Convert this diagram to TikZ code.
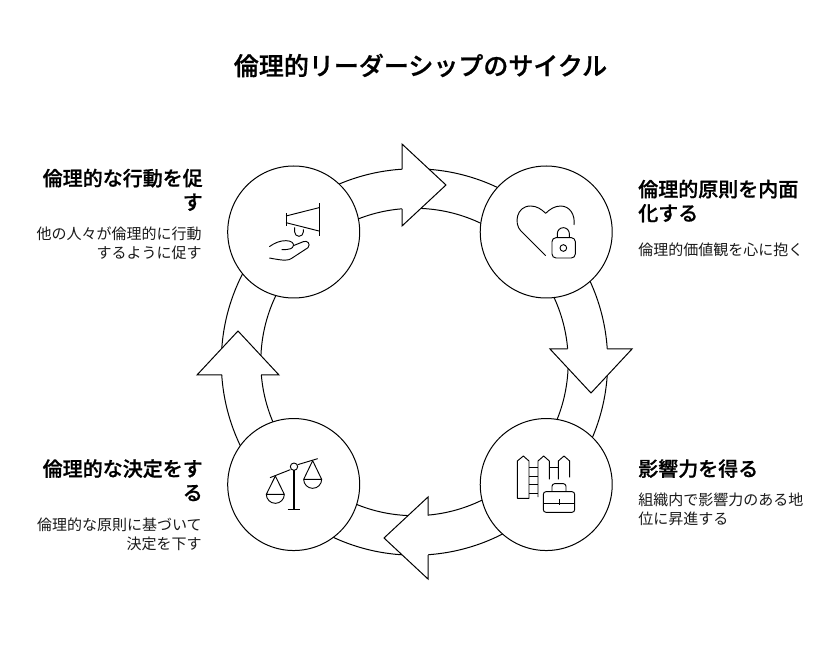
\documentclass[tikz,border=0pt]{standalone}
\usepackage{fontspec}
\setmainfont{Noto Sans CJK JP}
\newfontfamily\headfont[FakeBold=0.8]{Noto Sans CJK JP Medium}
\usetikzlibrary{positioning}
\tikzstyle{Astep}=[draw,circle,fill=white,minimum size=99pt,inner sep=0,line width=0.75pt,node distance=189.4pt]
\tikzstyle{Ahead}=[fill=white,line width=0.75pt,line join=miter]
\tikzstyle{ring}=[draw,line width=0.75pt]
\tikzstyle{icon}=[draw,line width=0.7pt,line join=round]
\tikzstyle{Ttitle}=[font=\fontsize{18.75}{22}\selectfont\headfont,inner sep=0]
\tikzstyle{Thead}=[font=\fontsize{15}{18}\selectfont\headfont,inner sep=0]
\tikzstyle{Tbody}=[font=\fontsize{11.25}{14}\selectfont,text=black!90,inner sep=0]
\begin{document}
\begin{tikzpicture}[x=0.75pt,y=-0.75pt]
  \useasboundingbox (0,0) rectangle (840,663);
  \node[Ttitle] (title) at (420.5,65.5) {倫理的リーダーシップのサイクル};
  % ring
  \coordinate (c) at (414.5,362);
  \path[ring] (c) circle (193.2);
  \path[ring] (c) circle (153.7);
  % heads
  \fill[white] (402,144) -- (446,185) -- (402,226) -- cycle;
  \draw[Ahead] (402,169.4) -- (402,144) -- (446,185) -- (402,226) -- (402,209);
  \fill[white] (550,349) -- (591,393) -- (632,349) -- cycle;
  \draw[Ahead] (567.7,349) -- (550,349) -- (591,393) -- (632,349) -- (607,349);
  \fill[white] (428,497) -- (384,538) -- (428,579) -- cycle;
  \draw[Ahead] (428,515.7) -- (428,497) -- (384,538) -- (428,579) -- (428,555);
  \fill[white] (197,375) -- (238,331) -- (279,375) -- cycle;
  \draw[Ahead] (222,375) -- (197,375) -- (238,331) -- (279,375) -- (261,375);
  % steps
  \node[Astep] (act) at (293.7,232) {};
  \node[Astep,right of=act] (inner) {};
  \node[Astep,below of=inner] (power) {};
  \node[Astep,left of=power] (judge) {};
  % texts
  \node[Thead,anchor=north west,align=left] (innerh) at (638,179.5) {倫理的原則を内面\\化する};
  \node[Tbody,anchor=north west,align=left] (innerb) at (638,243) {倫理的価値観を心に抱く};
  \node[Thead,anchor=north west,align=left] (powerh) at (638,459) {影響力を得る};
  \node[Tbody,anchor=north west,align=left] (powerb) at (638,493) {組織内で影響力のある地\\位に昇進する};
  \node[Thead,anchor=north east,align=right] (acth) at (203,168.5) {倫理的な行動を促\\す};
  \node[Tbody,anchor=north east,align=right] (actb) at (202,227) {他の人々が倫理的に行動\\するように促す};
  \node[Thead,anchor=north east,align=right] (judgeh) at (203,459) {倫理的な決定をす\\る};
  \node[Tbody,anchor=north east,align=right] (judgeb) at (202,518) {倫理的な原則に基づいて\\決定を下す};
  % megaphone and hand
  \begin{scope}[shift={(210,130)},x=0.25pt,y=-0.25pt]
    \path[icon] (228,250) -- (228,287);
    \path[icon] (228,258) -- (327,233);
    \path[icon] (228,278) -- (327,303);
    \path[icon] (327,220) -- (327,318);
    \path[icon] (254,292) -- (254,306) arc (180:0:13) -- (280,298);
    \path[icon] (178,350) .. controls (195,338) and (210,332) .. (228,332) .. controls (245,332) and (252,340) .. (250,347) .. controls (248,356) and (240,359) .. (215,359);
    \path[icon] (250,347) -- (280,335) .. controls (292,330) and (303,342) .. (294,353) -- (245,385) .. controls (235,392) and (225,393) .. (178,384);
  \end{scope}
  % heart and lock
  \begin{scope}[shift={(430,130)},x=0.25pt,y=-0.25pt]
    \path[icon] (347,377) -- (272,302) .. controls (252,282) and (258,228) .. (302,228) .. controls (320,228) and (335,238) .. (347,250) .. controls (359,238) and (374,228) .. (392,228) .. controls (420,228) and (436,255) .. (432,285);
    \path[icon,rounded corners=3pt] (366,323) rectangle (436,384);
    \path[icon] (382,323) -- (382,311) arc (180:360:18) -- (418,323);
    \path[icon] (400,354) circle (10);
  \end{scope}
  % fence and briefcase
  \begin{scope}[shift={(430,400)},x=0.25pt,y=-0.25pt]
    \path[icon] (262,295) -- (262,183) -- (280,168) -- (297,183) -- (297,295) -- cycle;
    \foreach \y in {201,228,254,281} \path[icon] (297,\y) -- (324,\y);
    \path[icon] (324,291) -- (324,183) -- (341,168) -- (358,183) -- (358,238);
    \path[icon] (358,201) -- (385,201);
    \path[icon] (385,238) -- (385,183) -- (402,168) -- (419,183) -- (419,232);
    \path[icon,rounded corners=2pt] (340,275) rectangle (434,337);
    \path[icon] (340,309) -- (434,309);
    \path[icon] (387,297) -- (387,316);
    \path[icon,rounded corners=2pt] (366,275) -- (366,251) -- (408,251) -- (408,275);
  \end{scope}
  % balance
  \begin{scope}[shift={(210,400)},x=0.25pt,y=-0.25pt]
    \path[icon] (180,233) -- (241,209);
    \path[icon] (263,194) -- (323,176);
    \path[icon] (252,200) circle (11);
    \path[icon,line width=1pt] (252,211) -- (252,328);
    \path[icon] (233,328) -- (270,328);
    \path[icon] (169,283) -- (196,228) -- (223,283) -- cycle;
    \path[icon] (169,283) arc (180:0:27);
    \path[icon] (281,238) -- (308,182) -- (335,238) -- cycle;
    \path[icon] (281,238) arc (180:0:27);
  \end{scope}
\end{tikzpicture}
\end{document}
